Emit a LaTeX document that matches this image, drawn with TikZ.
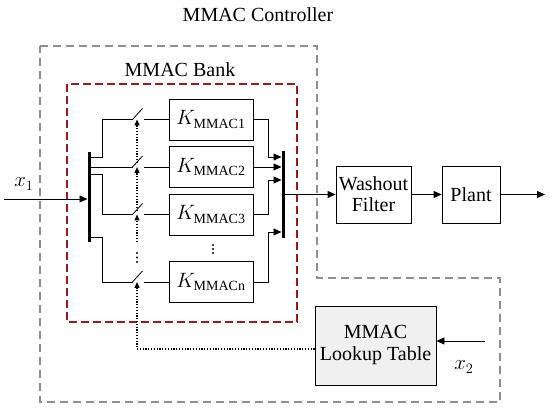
\documentclass[tikz,border=0pt]{standalone}
\usepackage{fontspec}
\setmainfont{Liberation Serif}
\usetikzlibrary{arrows.meta}
\definecolor{boxgray}{HTML}{8E8E8E}
\definecolor{bankred}{HTML}{A01818}
\definecolor{lutfill}{HTML}{F0F0F0}
\begin{document}
\begin{tikzpicture}[x=1pt,y=-1pt,
  font=\fontsize{20}{22}\selectfont,
  wire/.style={line width=0.8pt},
  arr/.style={wire,-{Triangle[length=8pt,width=7pt]}},
  blk/.style={draw,line width=0.8pt,minimum width=84pt,minimum height=41pt,inner sep=0pt},
  bus/.style={line width=3pt},
  ctrl/.style={line width=1.2pt,dash pattern=on 1.2pt off 1.6pt,-{Triangle[length=6pt,width=5pt]}},
  graydash/.style={draw=boxgray,line width=1.2pt,dash pattern=on 8pt off 5pt},
  reddash/.style={draw=bankred,line width=1.2pt,dash pattern=on 8pt off 4pt},
  dotmark/.style={circle,fill=black,inner sep=0pt,minimum size=2.1pt}]
\useasboundingbox (0,0) rectangle (550,409);
% containers
\draw[graydash] (40,46) -- (317,46) -- (317,278) -- (500,278) -- (500,402) -- (40,402) -- cycle;
\draw[reddash] (67,84) rectangle (297,322);
\node (ctl) at (258,15) {MMAC Controller};
\node (bank) at (180,70) {MMAC Bank};
% gain blocks
\node[blk] (k1) at (211,119.5) {$K_{\mathrm{MMAC1}}$};
\node[blk] (k2) at (211,167) {$K_{\mathrm{MMAC2}}$};
\node[blk] (k3) at (211,214.5) {$K_{\mathrm{MMAC3}}$};
\node[blk] (kn) at (211,282) {$K_{\mathrm{MMACn}}$};
\foreach \yy in {245,249,253}{\node[dotmark] at (213,\yy) {};}
\foreach \yy in {253,257.5,262}{\node[dotmark] at (137,\yy) {};}
% left bus
\coordinate (lbt) at (89,152);
\coordinate (lbb) at (89,242);
\draw[bus] (lbt) -- (lbb);
\coordinate (in) at (4,199);
\draw[arr,shorten >=1.5pt] (in) -- (in -| lbt);
\node (x1) at (24,184) {$x_1$};
% switches
\coordinate (s1) at (132.5,119.5);
\coordinate (s2) at (132.5,167);
\coordinate (s3) at (132.5,214.5);
\coordinate (sn) at (132.5,282);
\draw[wire] (89,157) -| (102,119.5) -- (s1);
\draw[wire] (89,167) -- (s2);
\draw[wire] (89,174) -| (102,214.5) -- (s3);
\draw[wire] (89,237) -| (102,282) -- (sn);
\foreach \s/\k in {s1/k1,s2/k2,s3/k3,sn/kn}{
  \draw[wire] (\s) -- ++(10,-11);
  \draw[wire] ([xshift=11.5pt]\s) -- (\k.west);
}
% control lines
\node[draw,fill=lutfill,line width=0.8pt,minimum width=121pt,minimum height=79pt,align=center,inner sep=0pt] (lt) at (375.5,345.5) {MMAC\\Lookup Table};
\coordinate (c0) at (137,349);
\draw[ctrl] (lt.west |- c0) -- (c0) -- ([xshift=4.5pt]sn);
\draw[ctrl] (137,242) -- ([xshift=4.5pt]s3);
\draw[ctrl] (137,211) -- ([xshift=4.5pt]s2);
\draw[ctrl] (137,163) -- ([xshift=4.5pt]s1);
\coordinate (x2in) at (485,341);
\draw[arr] (x2in) -- (x2in -| lt.east);
\node (x2) at (464,367) {$x_2$};
% right bus
\coordinate (rbt) at (283,151);
\coordinate (rbb) at (283,238);
\draw[bus] (rbt) -- (rbb);
\coordinate (r1) at (281.5,157);
\coordinate (r2) at (281.5,167);
\coordinate (r3) at (281.5,180);
\coordinate (rn) at (281.5,232);
\draw[arr] (k1.east) -- ++(15,0) |- (r1);
\draw[arr] (k2.east) -- (r2);
\draw[arr] (k3.east) -- ++(15,0) |- (r3);
\draw[arr] (kn.east) -- ++(15,0) |- (rn);
% plant chain
\node[blk,minimum width=75pt,minimum height=57pt,align=center,font=\fontsize{20}{21}\selectfont] (wf) at (373.5,194.5) {Washout\\Filter};
\node[blk,minimum width=58pt,minimum height=57pt] (pl) at (471,194.5) {Plant};
\coordinate (rbo) at (283,194.5);
\draw[arr] (rbo) -- (wf.west);
\draw[arr] (wf.east) -- (pl.west);
\coordinate (out) at (545,194.5);
\draw[arr] (pl.east) -- (out);
\end{tikzpicture}
\end{document}
